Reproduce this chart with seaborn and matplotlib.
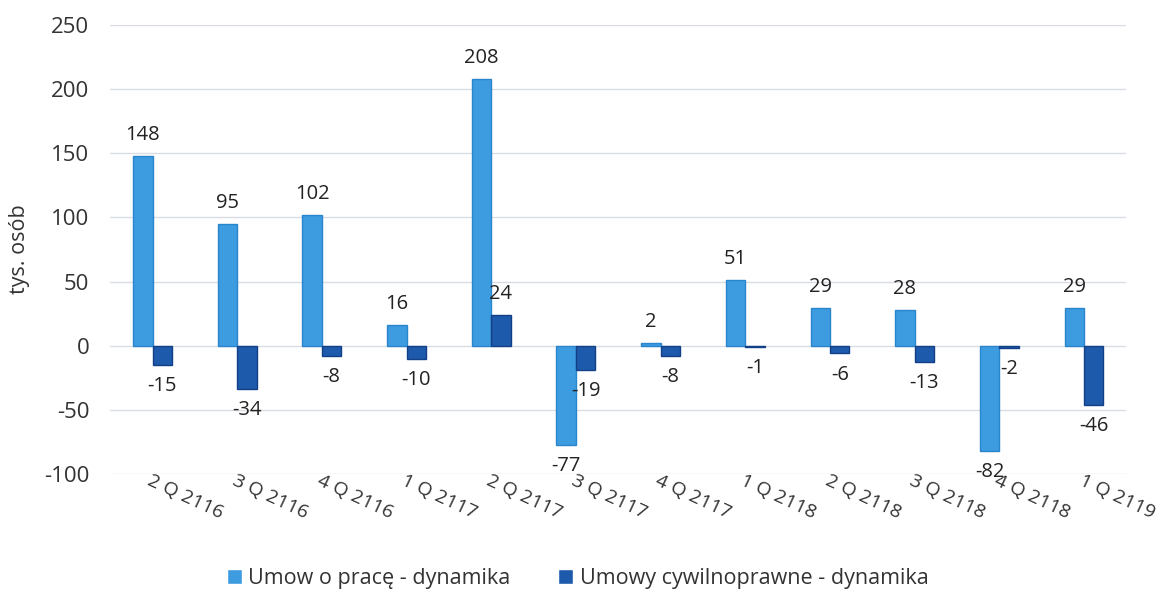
import matplotlib
matplotlib.use("Agg")
import matplotlib.pyplot as plt
import seaborn as sns
import pandas as pd

quarters = ["2 Q 2116", "3 Q 2116", "4 Q 2116", "1 Q 2117", "2 Q 2117", "3 Q 2117",
            "4 Q 2117", "1 Q 2118", "2 Q 2118", "3 Q 2118", "4 Q 2118", "1 Q 2119"]
umowy_o_prace = [148, 95, 102, 16, 208, -77, 2, 51, 29, 28, -82, 29]
umowy_cywilne = [-15, -34, -8, -10, 24, -19, -8, -1, -6, -13, -2, -46]
series_names = ["Umow o pracę - dynamika", "Umowy cywilnoprawne - dynamika"]
colors = ["#3d9be0", "#1d5aab"]
edge_colors = ["#2a86cc", "#123f85"]

df = pd.DataFrame({
    "kwartal": quarters * 2,
    "wartosc": umowy_o_prace + umowy_cywilne,
    "seria": [series_names[0]] * len(quarters) + [series_names[1]] * len(quarters),
})

sns.set_style("white")
plt.rcParams["font.family"] = ["Open Sans", "DejaVu Sans"]
plt.rcParams["axes.unicode_minus"] = False

fig = plt.figure(figsize=(11.6, 5.94), dpi=100)
ax = fig.add_axes([0.095, 0.202, 0.876, 0.756])

sns.barplot(data=df, x="kwartal", y="wartosc", hue="seria", palette=colors,
            saturation=1, width=0.46, ax=ax, errorbar=None, linewidth=1)

for cont, ec in zip(ax.containers, edge_colors):
    for bar in cont:
        bar.set_edgecolor(ec)
    ax.bar_label(cont, fmt="%d", padding=8, fontsize=14.5, color="#222222")

ax.set_ylim(-100, 250)
ax.set_yticks(range(-100, 251, 50))
ax.set_xlim(-0.5, len(quarters) - 0.5)
ax.yaxis.grid(True, color="#d9dde3", linewidth=1)
ax.set_axisbelow(True)
for s in ax.spines.values():
    s.set_visible(False)

ax.set_xlabel("")
ax.set_ylabel("tys. osób", fontsize=15.5, color="#333333", labelpad=10)
ax.tick_params(axis="y", labelsize=16, colors="#333333", length=0, pad=15)
ax.tick_params(axis="x", length=0, pad=-2)
ax.set_xticks(range(len(quarters)))
ax.set_xticklabels(quarters, rotation=-25, ha="left", rotation_mode="anchor",
                   fontsize=14, color="#333333")

ax.legend_.remove()
handles, labels = ax.get_legend_handles_labels()
fig.legend(handles, labels, loc="lower center", bbox_to_anchor=(0.498, -0.025), ncol=2,
           frameon=False, fontsize=15.5, handlelength=0.7, handleheight=0.7,
           columnspacing=2.2, handletextpad=0.3, labelcolor="#333333")

plt.savefig("out.png", dpi=100)
plt.close()
